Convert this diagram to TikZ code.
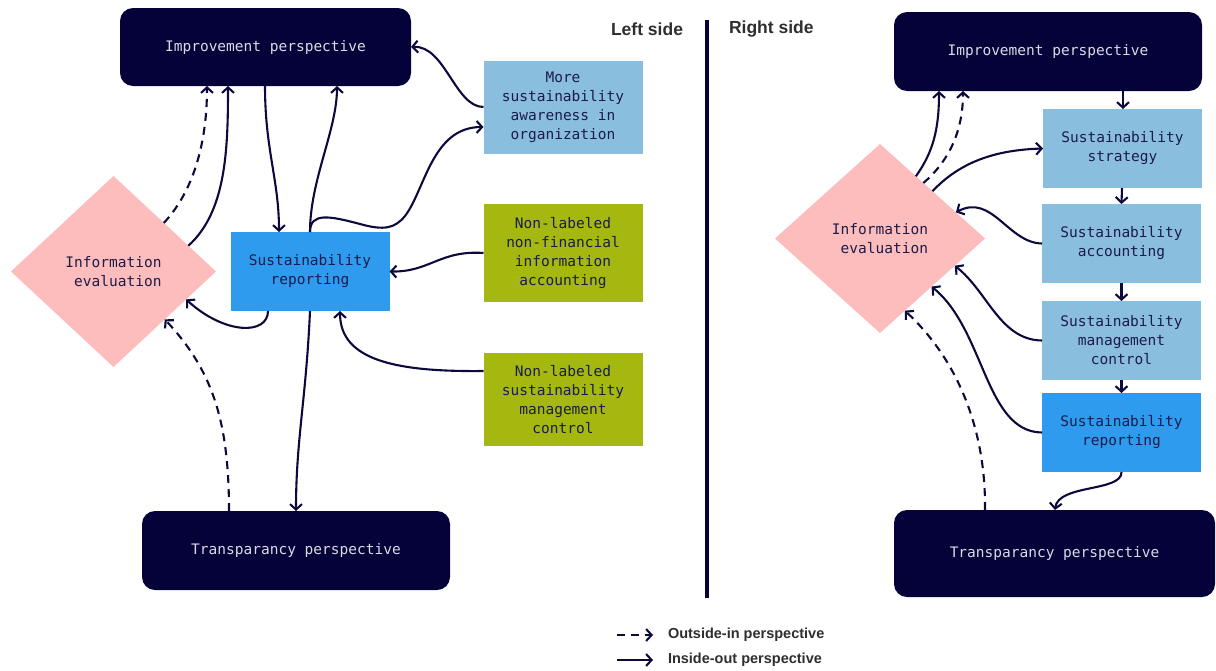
\documentclass[tikz,border=0pt]{standalone}
\usepackage{fontspec}
\setmainfont{Liberation Sans}
\newfontfamily\boxfont{DejaVu Sans Mono}
\usetikzlibrary{arrows.meta,shapes.geometric}

\definecolor{navy}{HTML}{05023A}
\definecolor{ink}{HTML}{0C0A3C}
\definecolor{boxtext}{HTML}{1C1B4A}
\definecolor{lighttext}{HTML}{DADAE4}
\definecolor{evalpink}{HTML}{FDBDBC}
\definecolor{repblue}{HTML}{2E9BEE}
\definecolor{paleblue}{HTML}{8ABEDE}
\definecolor{olive}{HTML}{A5B80F}
\definecolor{legendgray}{HTML}{2E2E2E}

\begin{document}
\begin{tikzpicture}[x=1pt,y=-1pt,
  every node/.style={inner sep=0pt, outer sep=0pt},
  boxtxt/.style={font=\boxfont\fontsize{14.5}{19}\selectfont},
  perspective/.style={boxtxt, fill=navy, rounded corners=13pt, text=lighttext, align=center},
  infobox/.style={boxtxt, rectangle, minimum width=159pt, minimum height=79pt, text=boxtext, align=center},
  evalnode/.style={boxtxt, diamond, fill=evalpink, text=boxtext, align=right},
  flow/.style={draw=ink, line width=2.1pt, -{Straight Barb[length=5.5pt,width=12pt]}},
  outside/.style={flow, dash pattern=on 8pt off 6pt},
  heading/.style={font=\bfseries\fontsize{17.5}{20}\selectfont, text=legendgray},
  legendtxt/.style={font=\bfseries\fontsize{14.5}{17}\selectfont, text=legendgray, anchor=west}
]
\useasboundingbox (0,0) rectangle (1216,670);

% ---------------- left side ----------------
\node[perspective, minimum width=291pt, minimum height=78pt] (limp) at (265.5,47) {Improvement perspective};
\node[perspective, minimum width=308pt, minimum height=79pt] (ltra) at (296,550.5) {Transparancy perspective};
\node[evalnode, minimum width=205pt, minimum height=191pt] (leval) at (113.5,271.5) {Information\\evaluation};
\node[infobox, fill=repblue] (lrep) at (310,271.5) {Sustainability\\reporting};
\node[infobox, fill=paleblue, minimum height=93pt] (aware) at (563,107.5) {More\\sustainability\\awareness in\\organization};
\node[infobox, fill=olive, minimum height=98pt] (nfin) at (563,253) {Non-labeled\\non-financial\\information\\accounting};
\node[infobox, fill=olive, minimum height=93pt] (lmc) at (563,399.5) {Non-labeled\\sustainability\\management\\control};

% connectors, left side (yshift is in canvas direction: positive = up)
\draw[outside] (leval.44) .. controls (190,195) and (207,150) .. ([xshift=-58.5pt]limp.south);
\draw[flow] (leval.19) .. controls (226,212) and (228,150) .. ([xshift=-37.5pt]limp.south);
\draw[flow] ([xshift=-0.5pt]limp.south) .. controls (265,150) and (279,180) .. ([xshift=-31pt]lrep.north);
\draw[flow] (lrep.north) .. controls (310,180) and (337,130) .. ([xshift=71.5pt]limp.south);
\draw[flow] ([yshift=0.5pt]aware.west) .. controls (455,107) and (445,45) .. (limp.east);
\draw[flow] (lrep.north) .. controls (310,212) and (330,216) .. (360,224)
   .. controls (385,231) and (395,228) .. (405,216)
   .. controls (425,190) and (432,127) .. ([yshift=-19.5pt]aware.west);
\draw[flow] (nfin.west) .. controls (440,250) and (430,272) .. (lrep.east);
\draw[flow] ([yshift=28.5pt]lmc.west) .. controls (395,372) and (340,360) .. ([xshift=30pt]lrep.south);
\draw[flow] ([xshift=-42pt]lrep.south) .. controls (268,335) and (225,335) .. (leval.-21);
\draw[flow] (lrep.south) .. controls (306,400) and (296,440) .. (ltra.north);
\draw[outside] ([xshift=-67pt]ltra.north) .. controls (229,420) and (212,370) .. (leval.-43);

% ---------------- divider and headings ----------------
\coordinate (divtop) at (707,20);
\coordinate (divbot) at (707,598);
\draw[navy, line width=4pt] (divtop) -- (divbot);
\node[heading, anchor=east] (lhead) at (683,29) {Left side};
\node[heading, anchor=west] (rhead) at (729,29) {Right side};

% ---------------- right side ----------------
\node[perspective, minimum width=308pt, minimum height=79pt] (rimp) at (1048,51.5) {Improvement perspective};
\node[perspective, minimum width=321pt, minimum height=87pt] (rtra) at (1054.5,553.5) {Transparancy perspective};
\node[evalnode, minimum width=210pt, minimum height=189pt] (reval) at (880,238.5) {Information\\evaluation};
\node[infobox, fill=paleblue] (strat) at (1122.5,148.5) {Sustainability\\strategy};
\node[infobox, fill=paleblue] (acct) at (1121.5,243.5) {Sustainability\\accounting};
\node[infobox, fill=paleblue] (rmc) at (1121.5,340.5) {Sustainability\\management\\control};
\node[infobox, fill=repblue] (rrep) at (1121.5,432.5) {Sustainability\\reporting};

% chain of steps
\draw[flow] ([xshift=75pt]rimp.south) -- ([xshift=0.5pt]strat.north);
\draw[flow] ([xshift=-0.5pt]strat.south) -- (acct.north);
\draw[flow] (acct.south) -- (rmc.north);
\draw[flow] (rmc.south) -- (rrep.north);
\draw[flow] (rrep.south) .. controls (1122,492) and (1058,484) .. ([xshift=0.5pt]rtra.north);

% connectors, right side
\draw[flow] (reval.60) .. controls (933,152) and (939,130) .. ([xshift=-109pt]rimp.south);
\draw[outside] (reval.52) .. controls (950,160) and (963,130) .. ([xshift=-85pt]rimp.south);
\draw[flow] (reval.42) .. controls (960,162) and (995,150) .. (strat.west);
\draw[flow] (acct.west) .. controls (1008,243) and (992,193) .. (reval.19);
\draw[flow] (rmc.west) .. controls (1000,340) and (988,292) .. (reval.-20);
\draw[flow] (rrep.west) .. controls (985,432) and (985,330) .. (reval.-43);
\draw[outside] ([xshift=-69.5pt]rtra.north) .. controls (986,430) and (958,360) .. (reval.-71);

% ---------------- legend ----------------
\coordinate (ldashA) at (617,635);
\coordinate (ldashB) at (653,635);
\coordinate (lsolidA) at (617,660);
\coordinate (lsolidB) at (653,660);
\draw[outside] (ldashA) -- (ldashB);
\draw[flow] (lsolidA) -- (lsolidB);
\node[legendtxt] (lgout) at (668,635) {Outside-in perspective};
\node[legendtxt] (lgin) at (668,660) {Inside-out perspective};
\end{tikzpicture}
\end{document}
